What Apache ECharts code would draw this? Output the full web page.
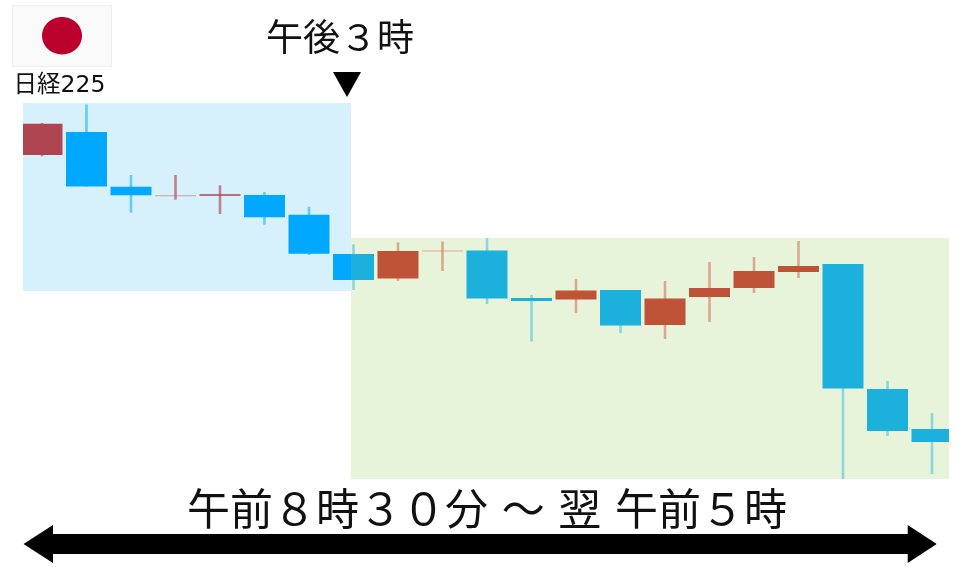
<!DOCTYPE html>
<html>
<head>
<meta charset="utf-8">
<style>html,body{margin:0;padding:0;background:#fff}#c{width:960px;height:567px}</style>
<script src="https://cdn.jsdelivr.net/npm/echarts@6/dist/echarts.min.js"></script>
</head>
<body>
<div id="c"></div>
<script>
// Relative index level of each session candle
const opens  = [412, 435, 380.3, 371, 371.3, 372, 352.3, 313, 288.5, 316, 316.5, 269, 267.5, 277, 242, 270, 279, 295, 303, 178, 138];
const closes = [443.3, 380.5, 371.7, 371.7, 372.7, 349.7, 313.3, 287, 316, 316.5, 268.5, 266, 276.5, 241.5, 268.4, 279, 296, 301, 178.5, 136, 125];
const lows   = [410.7, 380.5, 354.3, 367.3, 353, 342.3, 312, 277, 286, 296, 263, 225.5, 254, 234, 228, 245, 274, 289, 88, 131, 93];
const highs  = [444, 462.5, 392, 392, 381.7, 375, 360.3, 322.7, 324.5, 325.5, 329, 272, 288, 277, 286, 305, 310, 326, 303, 186, 154];
const faintCandles = [3, 9];
const sessionLabels = ['日経225', '午後３時', '午前８時３０分 ～ 翌 午前５時'];

const FONT = '"DejaVu Sans","Noto Sans CJK JP",sans-serif';
const slot = 44.5, firstCentre = 42;
const toIndex = px => (px - firstCentre) / slot;
const toLevel = px => 567 - px;

function range(a, b) { const r = []; for (let i = a; i <= b; i++) r.push(i); return r; }

const BODY_W = 41, WICK_W = 2.6;

function candleSeries(gridIndex, idx, palette) {
  return {
    type: 'custom',
    xAxisIndex: gridIndex,
    yAxisIndex: gridIndex,
    clip: true,
    z: 3,
    encode: { x: 0, y: [1, 2, 3, 4] },
    data: idx.map(i => [i, opens[i], closes[i], lows[i], highs[i]]),
    renderItem(params, api) {
      const i = api.value(0), o = api.value(1), c = api.value(2), l = api.value(3), h = api.value(4);
      const up = c >= o;
      const hi = api.coord([i, h]), lo = api.coord([i, l]);
      const top = api.coord([i, Math.max(o, c)]), bot = api.coord([i, Math.min(o, c)]);
      const fade = faintCandles.includes(i) ? 0.45 : 1;
      return {
        type: 'group',
        children: [
          { type: 'rect', shape: { x: hi[0] - WICK_W / 2, y: hi[1], width: WICK_W, height: lo[1] - hi[1] },
            style: { fill: up ? palette.upWick : palette.downWick } },
          { type: 'rect', shape: { x: top[0] - BODY_W / 2, y: top[1], width: BODY_W, height: Math.max(bot[1] - top[1], 1) },
            style: { fill: up ? palette.up : palette.down, opacity: fade } }
        ]
      };
    }
  };
}

const leftPalette  = { up: '#AE4550', down: '#00A9FF', upWick: '#C27F8E', downWick: '#5FCBFF' };
const rightPalette = { up: '#BE5337', down: '#1CB1DD', upWick: '#DDA78F', downWick: '#8AD5DF' };

const chart = echarts.init(document.getElementById('c'), null, { renderer: 'canvas' });
chart.setOption({
  animation: false,
  backgroundColor: '#fff',
  grid: [
    { left: 23, top: 103, width: 328, height: 188, show: true, backgroundColor: '#D7F1FC', borderWidth: 0 },
    { left: 351, top: 238, width: 598, height: 241, show: true, backgroundColor: '#E8F4DA', borderWidth: 0 }
  ],
  xAxis: [
    { type: 'value', gridIndex: 0, min: toIndex(23), max: toIndex(351), show: false, splitLine: { show: false } },
    { type: 'value', gridIndex: 1, min: toIndex(351), max: toIndex(949), show: false, splitLine: { show: false } }
  ],
  yAxis: [
    { type: 'value', gridIndex: 0, min: toLevel(291), max: toLevel(103), show: false, splitLine: { show: false }, scale: true },
    { type: 'value', gridIndex: 1, min: toLevel(479), max: toLevel(238), show: false, splitLine: { show: false }, scale: true }
  ],
  series: [candleSeries(0, range(0, 7), leftPalette), candleSeries(1, range(7, 20), rightPalette)],
  graphic: [
    { type: 'rect', shape: { x: 12.5, y: 5.5, width: 99, height: 61 }, style: { fill: '#FAFAFA', stroke: '#EEEEEE', lineWidth: 1 } },
    { type: 'ellipse', shape: { cx: 62, cy: 35.7, rx: 20, ry: 18.7 }, style: { fill: '#BC002D' } },
    { type: 'text', x: 13.5, y: 86, style: { text: sessionLabels[0], font: '23.5px ' + FONT, fill: '#111', textVerticalAlign: 'middle' } },
    { type: 'text', x: 266, y: 41, style: { text: sessionLabels[1], font: '37px ' + FONT, fill: '#111', textVerticalAlign: 'middle' } },
    { type: 'polygon', shape: { points: [[333, 72], [361, 72], [347, 97]] }, style: { fill: '#000' } },
    { type: 'text', x: 187, y: 514, z: 10, style: { text: sessionLabels[2], font: '43px ' + FONT, fill: '#111', textVerticalAlign: 'middle' } },
    { type: 'polygon', z: 9, shape: { points: [[23.5, 544], [53, 525], [53, 534], [907.7, 534], [907.7, 525], [936.7, 544], [907.7, 563], [907.7, 554], [53, 554], [53, 563]] }, style: { fill: '#000' } }
  ]
});
</script>
</body>
</html>
